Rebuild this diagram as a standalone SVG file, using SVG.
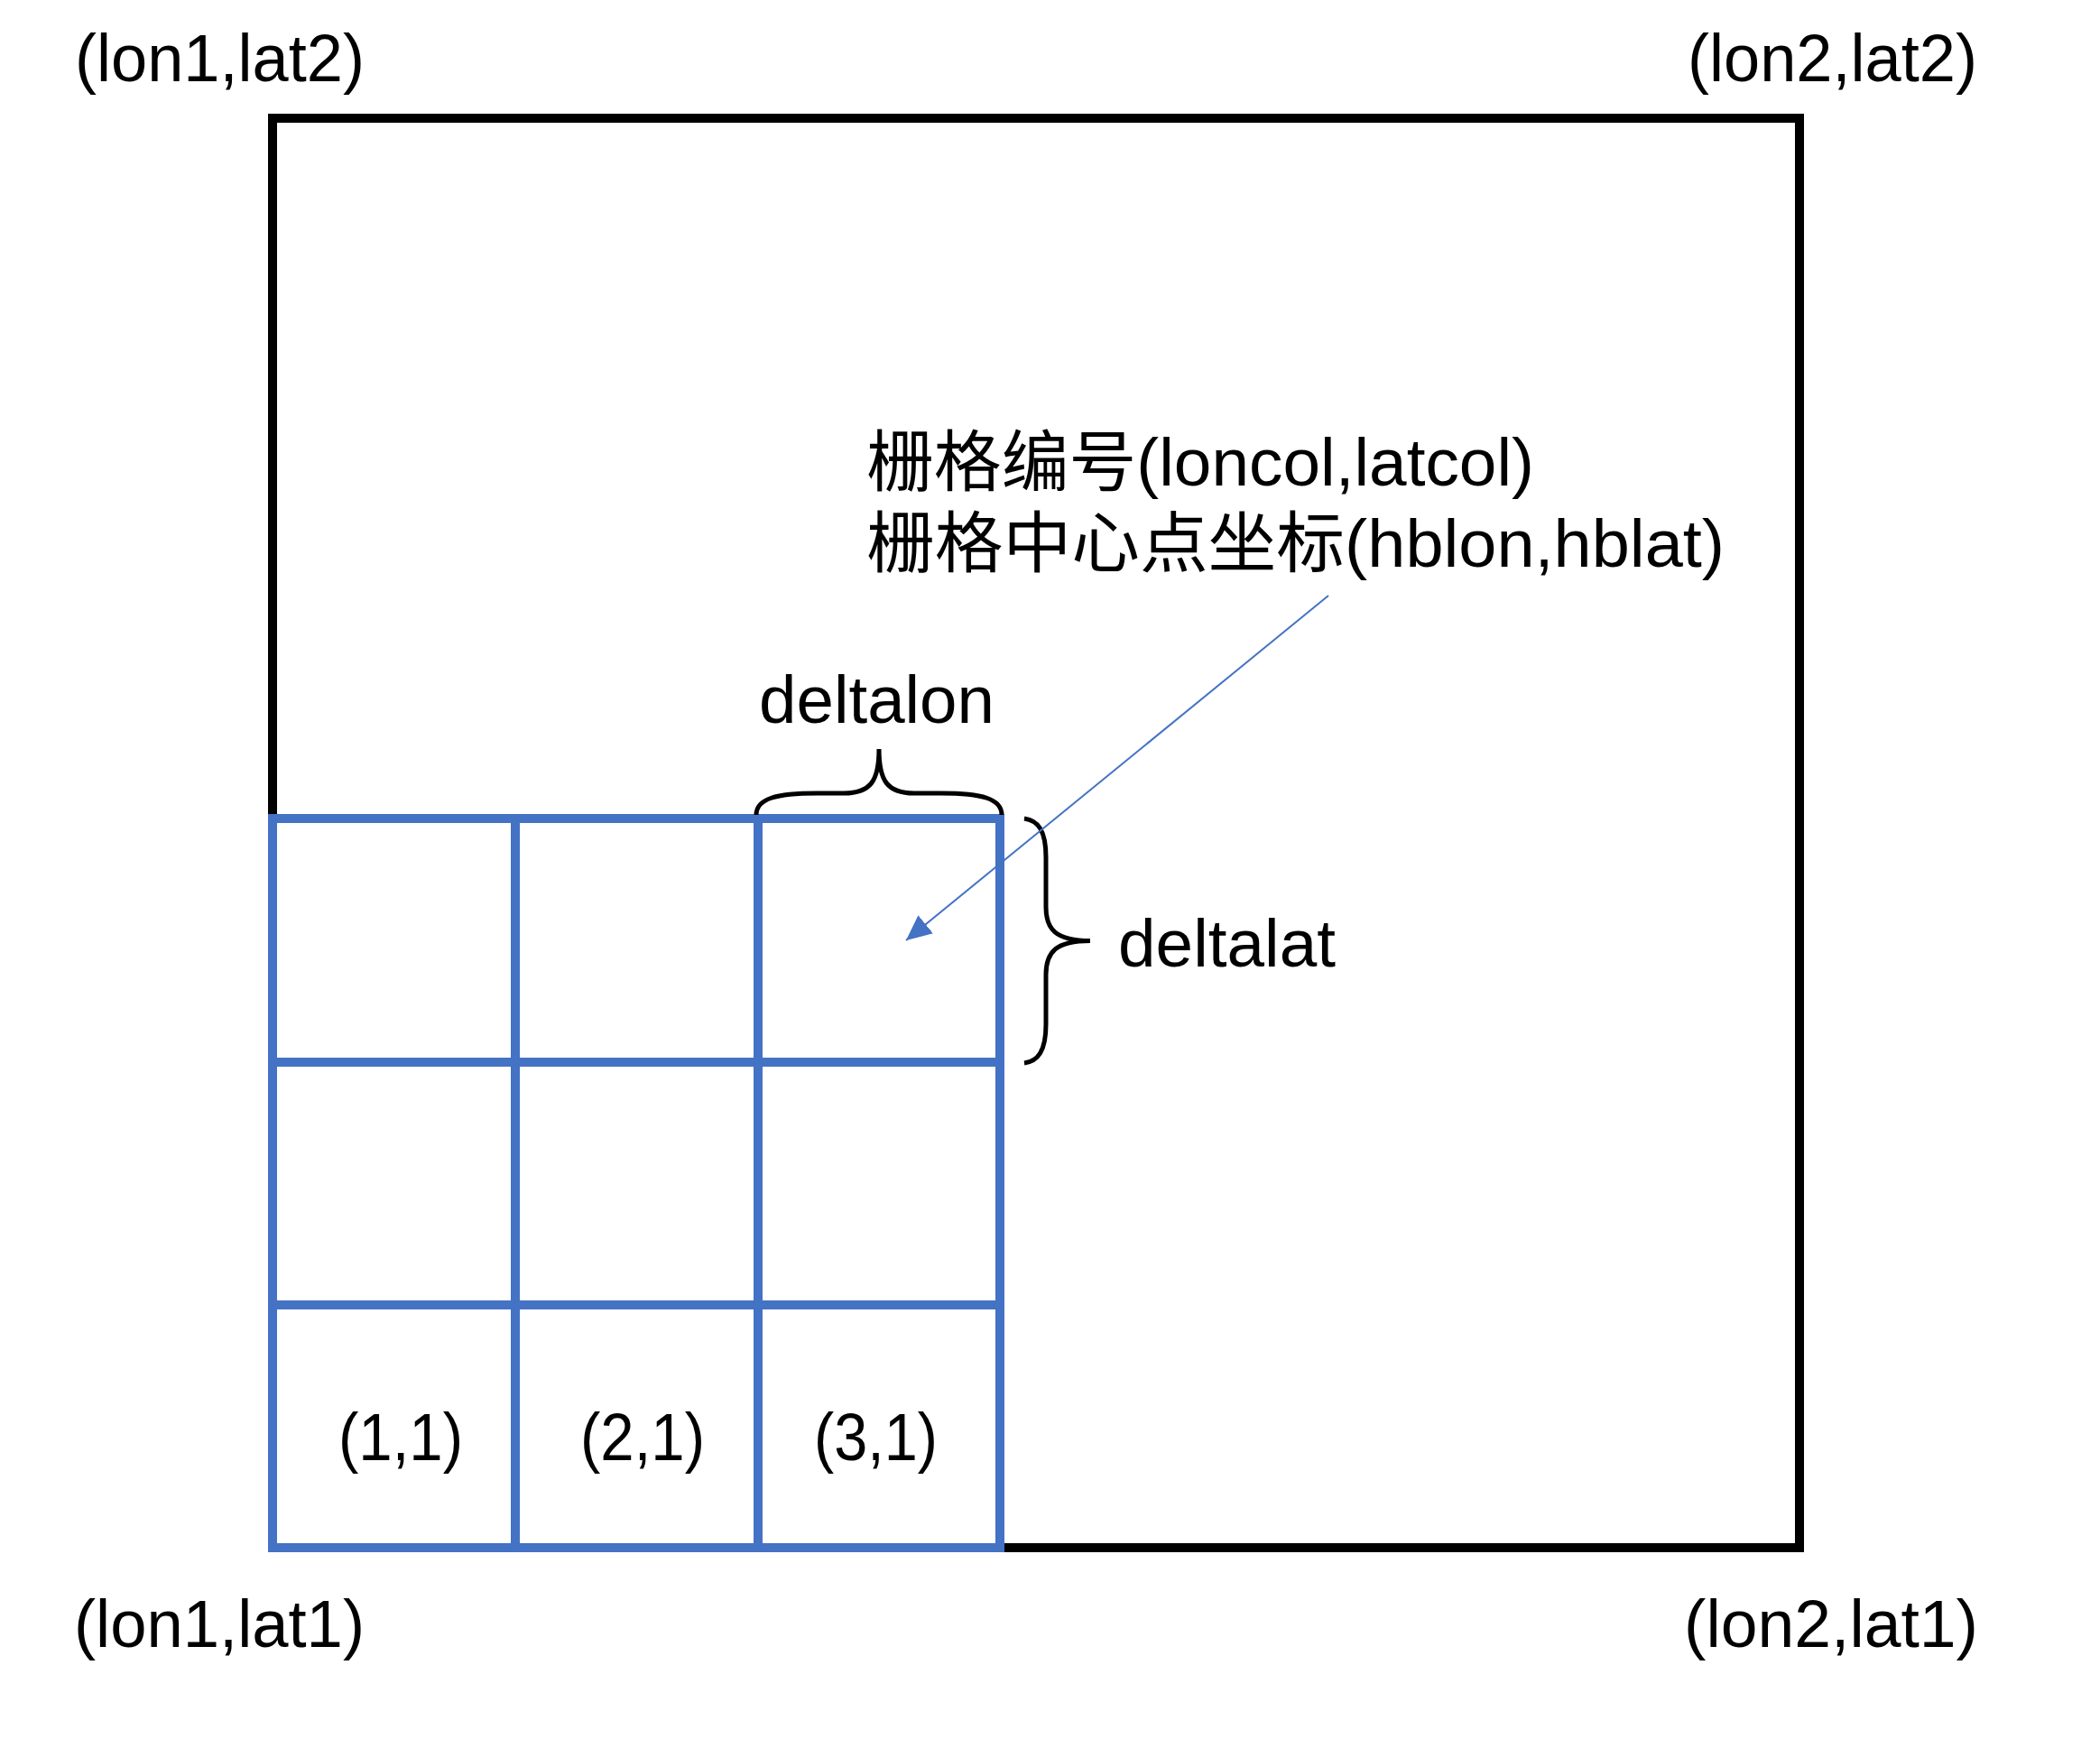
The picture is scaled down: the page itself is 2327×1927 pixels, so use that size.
<svg xmlns="http://www.w3.org/2000/svg" width="2327" height="1927" viewBox="0 0 2327 1927">
<style>
.t{font-family:"Liberation Sans","Noto Sans CJK SC",sans-serif;font-size:74px;fill:#000}
.blk{fill:none;stroke:#000;stroke-width:10}
.blu{fill:none;stroke:#4472C4;stroke-width:10}
.brace{fill:none;stroke:#000;stroke-width:5;stroke-linejoin:miter}
</style>
<defs>
<marker id="ah" markerUnits="userSpaceOnUse" markerWidth="30" markerHeight="26" refX="28" refY="13" orient="auto">
<path d="M0,0 L28,13 L0,26 Z" fill="#4472C4"/>
</marker>
</defs>
<rect width="2327" height="1927" fill="#fff"/>
<g id="area">
<rect class="blk" x="302" y="131" width="1692" height="1584"/>
</g>
<g id="grid">
<rect class="blu" x="302" y="907" width="806" height="808"/>
<line class="blu" x1="571" y1="907" x2="571" y2="1715"/>
<line class="blu" x1="840" y1="907" x2="840" y2="1715"/>
<line class="blu" x1="302" y1="1177" x2="1108" y2="1177"/>
<line class="blu" x1="302" y1="1446" x2="1108" y2="1446"/>
</g>
<g id="corner-labels">
<text class="t" x="83" y="90" textLength="321" lengthAdjust="spacingAndGlyphs">(lon1,lat2)</text>
<text class="t" x="1870" y="90" textLength="321" lengthAdjust="spacingAndGlyphs">(lon2,lat2)</text>
<text class="t" x="82" y="1825" textLength="322" lengthAdjust="spacingAndGlyphs">(lon1,lat1)</text>
<text class="t" x="1866" y="1825" textLength="326" lengthAdjust="spacingAndGlyphs">(lon2,lat1)</text>
</g>
<g id="cell-labels">
<text class="t" x="375" y="1618" textLength="138" lengthAdjust="spacingAndGlyphs">(1,1)</text>
<text class="t" x="643" y="1618" textLength="138" lengthAdjust="spacingAndGlyphs">(2,1)</text>
<text class="t" x="902" y="1618" textLength="137" lengthAdjust="spacingAndGlyphs">(3,1)</text>
</g>
<g id="braces">
<path class="brace" d="M838,903 C838,885 860,879 905,879 L935,879 C965,879 974,865 974,830 C974,865 983,879 1013,879 L1043,879 C1088,879 1110,885 1110,903"/>
<path class="brace" d="M1135,907 C1150,909 1159,920 1159,950 L1159,1005 C1159,1030 1170,1042.5 1208,1042.5 C1170,1042.5 1159,1055 1159,1080 L1159,1135 C1159,1165 1150,1176 1135,1178"/>
<text class="t" x="841" y="801" textLength="261" lengthAdjust="spacingAndGlyphs">deltalon</text>
<text class="t" x="1239" y="1071" textLength="241" lengthAdjust="spacingAndGlyphs">deltalat</text>
</g>
<g id="note">
<text class="t" x="960" y="538" textLength="740" lengthAdjust="spacingAndGlyphs">栅格编号(loncol,latcol)</text>
<text class="t" x="960" y="628" textLength="951" lengthAdjust="spacingAndGlyphs">栅格中心点坐标(hblon,hblat)</text>
</g>
<g id="connectors">
<line x1="1472" y1="660" x2="1004" y2="1042" stroke="#4472C4" stroke-width="2" marker-end="url(#ah)"/>
</g>
</svg>
